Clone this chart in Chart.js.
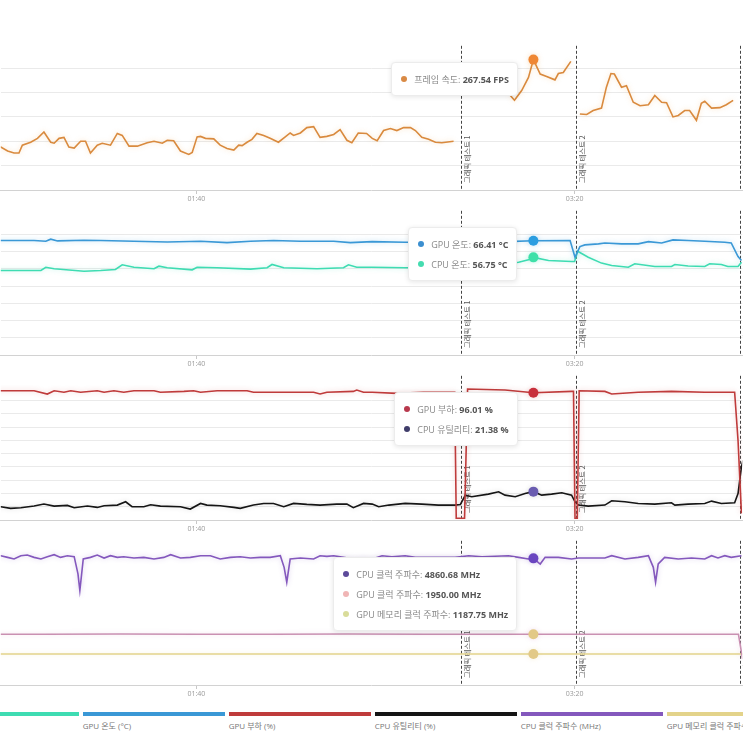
<!DOCTYPE html>
<html>
<head>
<meta charset="utf-8">
<script src="https://cdn.jsdelivr.net/npm/chart.js@4.4.1/dist/chart.umd.min.js"></script>
<style>
html, body { margin: 0; padding: 0; background: #fff; }
body { width: 743px; height: 743px; overflow: hidden; position: relative; font-family: "Open Sans", "Noto Sans CJK KR", sans-serif; }
.panel { position: absolute; left: 0; width: 743px; height: 165px; }
.tip { position: absolute; display: none; background: #fff; border: 1px solid #ececec; border-radius: 4px; box-shadow: 0 1px 5px rgba(0,0,0,0.10); padding: 6px 8px 6px 9px; font-size: 9px; color: #888; white-space: nowrap; pointer-events: none; }
.tip .row { height: 20px; display: flex; align-items: center; }
.tip .dot { width: 6.5px; height: 6.5px; border-radius: 50%; margin-right: 7px; flex: none; }
.tip b { color: #555; font-weight: 700; }
#legend { position: absolute; top: 712px; left: 0; width: 743px; height: 31px; overflow: hidden; }
.lg { position: absolute; top: 0; width: 142px; }
.lg .bar { height: 4px; }
.lg .txt { font-size: 8px; color: #777; margin-top: 4px; white-space: nowrap; }
</style>
</head>
<body>
<div class="panel" style="top:45px"><canvas id="c0"></canvas></div>
<div class="panel" style="top:210px"><canvas id="c1"></canvas></div>
<div class="panel" style="top:375px"><canvas id="c2"></canvas></div>
<div class="panel" style="top:540px"><canvas id="c3"></canvas></div>
<div id="legend"></div>
<script>
// visible time window (seconds) and axis ticks
const xMin = 48.3, xMax = 244.3;
const xTicks = [100, 200];
const activeTime = 189.1; // hovered moment shown in the tooltips

const testTimes = [169.9, 200.3, 243.8];
const testLabels = ['그래픽 테스트 1', '그래픽 테스트 2', '그래픽 테스트 3'];

// [time (s), value] pairs, null = no data
const fps = [[47.0,90],[48.3,88],[50.1,80],[51.8,76],[53.1,76],[54.0,92],[56.2,98],[58.0,106],[59.7,119],[61.5,98],
  [62.4,96],[63.7,106],[65.0,108],[66.3,88],[67.7,86],[69.4,100],[70.7,100],[72.0,76],[73.8,92],[75.1,96],
  [77.3,92],[79.1,116],[80.4,112],[82.2,90],[84.4,90],[87.0,97],[88.8,100],[91.0,96],[92.3,102],[94.0,101],
  [95.8,80],[98.0,73],[98.9,77],[100.2,109],[101.1,110],[102.4,106],[104.6,105],[106.3,92],[108.1,85],[109.9,82],
  [111.2,92],[112.1,91],[113.4,98],[114.7,104],[116.0,116],[117.8,112],[119.5,106],[121.7,98],[123.5,109],[124.8,117],
  [125.7,112],[127.5,117],[129.2,128],[131.0,130],[132.7,108],[134.5,110],[136.3,114],[138.0,124],[139.8,102],[141.1,97],
  [142.8,117],[145.0,116],[146.5,106],[147.8,101],[149.5,122],[151.3,126],[153.0,122],[154.8,128],[156.6,128],[157.9,122],
  [159.6,108],[161.4,104],[163.2,98],[164.9,97],[168.0,100],[175.0,null],
  [183.0,194],[184.1,184],[186.0,204],[187.8,231],[189.1,267.54],[190.9,238],[192.6,233],[194.8,226],[195.7,239],[197.0,241],[199.0,264],
  [200.3,null],
  [201.4,156],[203.2,155],[204.9,163],[207.1,168],[208.4,211],[209.6,239],[210.5,238],[212.4,211],[213.7,214],[215.5,180],
  [217.3,173],[219.5,175],[221.2,194],[223.0,180],[224.3,179],[226.0,150],[227.4,153],[229.1,163],[230.4,163],[232.2,143],
  [233.5,178],[234.4,182],[236.2,168],[238.4,169],[240.1,175],[241.9,184]];

const gpuTemp = [[47.0,66.5],[48.3,66.5],[57.1,66.5],[60.2,66.1],[61.5,67.3],[63.3,66.3],[70.3,66.7],[74.7,66.5],[83.5,66.1],[92.3,65.7],
  [101.1,66.1],[108.1,65.3],[114.3,66.1],[120.4,66.5],[127.5,66.1],[136.3,66.1],[140.7,65.3],[146.5,65.9],[155.2,65.5],[170.2,65.5],
  [182.0,65.9],[189.1,66.41],[198.8,66.5],[200.1,56.8],[201.4,63.0],[202.7,64.0],[206.3,64.6],[208.0,65.1],[212.4,64.6],[216.8,64.6],
  [219.5,65.9],[223.0,65.1],[226.0,66.9],[230.0,66.5],[234.4,66.1],[239.7,65.5],[241.4,65.1],[243.2,57.2],[244.1,54.9]];

const cpuTemp = [[47.0,49.1],[48.3,49.1],[58.9,49.1],[60.2,51.0],[62.4,50.1],[70.3,48.7],[74.7,49.1],[78.6,49.7],[80.4,52.4],[83.5,51.0],
  [88.8,50.1],[90.1,51.6],[92.3,50.7],[98.9,49.5],[100.2,51.0],[105.5,50.7],[114.3,49.9],[118.7,50.7],[120.0,52.6],[123.1,50.7],
  [131.9,50.1],[138.9,50.7],[140.2,52.4],[142.4,51.0],[146.5,51.0],[155.2,50.7],[165.0,50.7],[172.0,51.4],[180.0,52.5],[185.2,53.9],
  [187.8,55.3],[189.1,56.75],[193.1,54.9],[199.2,54.3],[200.0,54.3],[200.8,60.3],[203.6,56.8],[207.1,53.4],[209.8,52.0],[214.2,51.0],
  [215.9,53.0],[221.2,51.4],[225.6,51.4],[226.5,52.6],[230.0,51.7],[234.4,51.4],[235.7,53.0],[238.8,52.6],[240.5,51.4],[243.2,51.4],[244.1,53.9]];

const gpuLoad = [[47.0,97.5],[48.3,97.5],[57.1,97.5],[60.6,95.0],[62.4,97.5],[65.0,96.3],[66.8,97.5],[69.4,96.3],[73.8,97.5],[75.6,96.3],
  [78.2,97.5],[80.8,96.3],[83.5,97.5],[88.8,97.5],[90.5,96.3],[96.7,97.0],[99.3,97.5],[101.1,96.3],[105.5,97.5],[113.4,97.5],
  [115.1,96.3],[131.0,96.3],[132.7,95.0],[134.5,96.3],[141.5,97.0],[142.4,98.0],[144.2,96.3],[146.5,96.3],[153.0,95.5],[160.0,96.3],
  [168.3,96.3],[168.7,1.3],[170.9,1.3],[171.7,98.8],[181.6,98.0],[189.1,96.01],[199.2,97.0],[199.7,97.0],[200.1,1.3],[200.7,1.3],
  [201.2,97.5],[208.0,97.0],[209.8,95.0],[216.8,96.3],[225.6,97.0],[234.4,96.3],[242.3,96.3],[243.2,60.0],[244.1,5.0]];

const cpuUtil = [[47.0,10.0],[48.3,10.0],[50.9,8.75],[53.6,9.25],[57.1,10.5],[59.7,12.0],[62.4,10.5],[65.9,11.0],[67.7,9.25],[71.2,10.5],
  [73.8,9.5],[75.6,10.75],[79.1,11.25],[81.3,13.75],[83.0,10.0],[86.1,10.0],[87.9,11.5],[90.5,10.5],[95.8,10.0],[98.4,8.25],
  [101.1,12.5],[102.8,11.25],[106.3,10.75],[109.9,9.5],[111.6,8.75],[115.1,11.25],[117.8,12.5],[120.4,12.5],[123.1,10.0],[125.7,12.5],
  [129.2,11.75],[132.7,11.25],[137.1,12.0],[139.8,12.0],[141.5,9.25],[144.2,12.5],[146.5,12.0],[148.2,10.0],[150.9,11.25],[155.2,12.5],
  [159.6,12.0],[164.0,11.25],[168.4,11.25],[169.8,11.75],[171.1,18.75],[172.8,17.5],[177.2,19.5],[179.9,21.25],[181.6,18.75],[184.3,17.5],
  [186.9,20.0],[189.1,21.38],[191.3,18.75],[193.9,19.5],[196.6,20.5],[199.2,18.75],[200.1,13.75],[201.0,11.25],[203.6,10.5],[208.0,11.25],
  [209.8,14.5],[213.3,13.75],[216.8,12.5],[221.2,12.0],[225.6,13.0],[226.5,11.25],[230.0,12.0],[234.4,12.5],[236.2,14.25],[238.8,12.5],
  [242.3,13.0],[243.2,20.0],[244.1,40.0],[244.5,45.0]];

const cpuClock = [[47.0,4962],[48.3,4962],[50.1,4898],[51.8,4835],[53.6,4962],[55.3,4987],[57.1,4898],[58.9,4835],[60.6,4924],[62.4,5000],
  [64.1,4898],[65.9,4962],[67.7,4924],[68.7,4262],[69.2,3626],[70.1,4835],[72.0,4898],[73.8,4987],[75.6,4873],[77.3,4962],
  [79.1,4898],[80.8,4924],[83.5,4873],[86.1,4898],[88.8,4835],[91.4,4898],[93.2,5000],[95.8,4873],[98.4,4898],[101.1,4962],
  [103.7,4962],[106.3,4835],[109.0,4898],[111.6,4924],[114.3,4873],[116.9,4898],[119.5,4898],[122.2,4962],[123.2,4516],[123.9,3944],
  [124.8,4835],[127.5,4873],[131.0,4835],[132.7,4962],[134.5,4936],[136.3,4962],[138.9,4898],[141.5,4835],[144.2,4873],[146.5,4835],
  [149.1,4962],[151.7,4924],[155.2,4962],[157.9,4898],[168.4,4898],[172.0,4962],[175.5,4924],[182.5,4962],[185.2,4898],[187.8,4835],
  [189.1,4860.68],[190.9,4644],[192.2,4898],[195.7,4898],[199.2,4835],[201.0,4873],[204.5,4873],[208.0,4873],[209.8,4962],[213.3,4835],
  [216.8,4898],[219.5,4962],[220.8,4516],[221.4,3944],[222.1,4644],[223.8,4898],[227.4,4835],[230.9,4873],[234.4,4835],[236.2,4962],
  [237.9,4873],[239.7,4962],[241.4,4898],[244.1,4962]];

const gpuClock = [[47.0,1950],[60.0,1945],[80.0,1955],[100.0,1945],[120.0,1950],[140.0,1955],[160.0,1950],[189.1,1950],[210.0,1950],[230.0,1950],[243.3,1950],[244.4,1000]];
const gpuMemClock = [[47.0,1187.75],[100.0,1187.75],[189.1,1187.75],[244.5,1187.75]];

const legendOrder = ['프레임 속도', 'CPU 온도', 'GPU 온도', 'GPU 부하', 'CPU 유틸리티', 'CPU 클럭 주파수', 'GPU 메모리 클럭 주파수', 'GPU 클럭 주파수'];

function series(label, unit, pairs, color, hover, tip, glow) {
  return {
    label: label, unit: unit, tipColor: tip, glowColor: glow,
    data: pairs.map(p => ({ x: p[0], y: p[1] })),
    borderColor: color, backgroundColor: color,
    borderWidth: 1.6, pointRadius: 0, pointHoverRadius: 5,
    pointHoverBackgroundColor: hover, pointHoverBorderColor: hover, pointHoverBorderWidth: 0,
    tension: 0, fill: false, spanGaps: false
  };
}

const panels = [
  { yMax: 295.9, step: 50, sets: [
    series('프레임 속도', 'FPS', fps, '#d98a3e', '#ef8734', '#d98a45', 'rgba(240,170,80,0.35)') ] },
  { yMax: 83.8, step: 10, sets: [
    series('GPU 온도', '°C', gpuTemp, '#3a98d6', '#2b9de0', '#3b8fd0', 'rgba(60,160,220,0.35)'),
    series('CPU 온도', '°C', cpuTemp, '#3edcb2', '#3ee0a8', '#45dcb0', 'rgba(60,220,180,0.35)') ] },
  { yMax: 108.75, step: 10, sets: [
    series('GPU 부하', '%', gpuLoad, '#bf3b3b', '#c8303c', '#b8394d', 'rgba(200,60,60,0.25)'),
    series('CPU 유틸리티', '%', cpuUtil, '#151515', '#6a5cb0', '#3f3d6a', 'rgba(0,0,0,0.15)') ] },
  { yMax: 5534, step: 500, sets: [
    series('CPU 클럭 주파수', 'MHz', cpuClock, '#8458bd', '#6a45c0', '#5d4a9a', 'rgba(130,90,190,0.3)'),
    series('GPU 클럭 주파수', 'MHz', gpuClock, '#c990b2', '#e2c987', '#f0b5b5', 'rgba(210,150,190,0.3)'),
    series('GPU 메모리 클럭 주파수', 'MHz', gpuMemClock, '#e3d38a', '#e2c987', '#d9dc9a', 'rgba(230,210,130,0.3)') ] }
];

// dashed test markers with rotated captions
const markerPlugin = {
  id: 'markers',
  beforeDatasetsDraw(chart) {
    const ctx = chart.ctx, a = chart.chartArea, x = chart.scales.x;
    ctx.save();
    testTimes.forEach((t, i) => {
      const px = Math.round(x.getPixelForValue(t)) + 0.5;
      ctx.strokeStyle = '#444';
      ctx.lineWidth = 1;
      ctx.setLineDash([3, 2]);
      ctx.beginPath();
      ctx.moveTo(px, a.top);
      ctx.lineTo(px, a.bottom);
      ctx.stroke();
      ctx.save();
      ctx.translate(px + 2, a.bottom - 7);
      ctx.rotate(-Math.PI / 2);
      ctx.fillStyle = '#555';
      ctx.font = '7.3px "Noto Sans CJK KR"';
      ctx.textBaseline = 'top';
      ctx.textAlign = 'left';
      ctx.fillText(testLabels[i], 0, 0);
      ctx.restore();
    });
    ctx.restore();
  }
};

// soft glow around lines
const glowPlugin = {
  id: 'glow',
  beforeDatasetDraw(chart, args) {
    chart.ctx.save();
    chart.ctx.shadowColor = chart.data.datasets[args.index].glowColor;
    chart.ctx.shadowBlur = 5;
  },
  afterDatasetDraw(chart) {
    chart.ctx.restore();
  }
};

function externalTip(context) {
  const chart = context.chart, tooltip = context.tooltip;
  const holder = chart.canvas.parentNode;
  let el = holder.querySelector('.tip');
  if (!el) {
    el = document.createElement('div');
    el.className = 'tip';
    holder.appendChild(el);
  }
  if (tooltip.opacity === 0) { el.style.display = 'none'; return; }
  el.style.display = 'block';
  el.innerHTML = tooltip.dataPoints.map(p => {
    const d = p.dataset;
    return '<div class="row"><span class="dot" style="background:' + d.tipColor + '"></span>' +
      d.label + ':&nbsp;<b>' + p.parsed.y.toFixed(2) + ' ' + d.unit + '</b></div>';
  }).join('');
  el.style.left = (tooltip.caretX - 16 - el.offsetWidth) + 'px';
  el.style.top = (chart.chartArea.top + 17) + 'px';
}

function mmss(v) {
  return String(Math.floor(v / 60)).padStart(2, '0') + ':' + String(Math.round(v % 60)).padStart(2, '0');
}

const charts = panels.map((p, i) => {
  const chart = new Chart(document.getElementById('c' + i), {
    type: 'line',
    data: { datasets: p.sets },
    options: {
      responsive: true,
      maintainAspectRatio: false,
      animation: false,
      events: [],
      layout: { padding: 0 },
      scales: {
        x: {
          type: 'linear', min: xMin, max: xMax,
          afterBuildTicks: s => { s.ticks = xTicks.map(v => ({ value: v })); },
          afterFit: s => { s.height = 20; },
          ticks: { callback: v => mmss(v), color: '#999', font: { size: 7, family: 'Open Sans' }, padding: 1, maxRotation: 0, autoSkip: false },
          grid: { drawOnChartArea: false, drawTicks: true, tickLength: 4, color: '#c8c8c8' },
          border: { color: '#d2d2d2' }
        },
        y: {
          min: 0, max: p.yMax,
          ticks: { display: false, stepSize: p.step },
          grid: {
            drawTicks: false,
            color: c => (c.tick.value > 0 && Math.abs(c.tick.value % p.step) < 1e-6) ? '#eaeaea' : 'rgba(0,0,0,0)'
          },
          border: { display: false }
        }
      },
      plugins: {
        legend: { display: false },
        tooltip: { enabled: false, external: externalTip, mode: 'nearest', position: 'average' }
      }
    },
    plugins: [markerPlugin, glowPlugin]
  });
  const active = chart.data.datasets.map((d, k) => ({ datasetIndex: k, index: d.data.findIndex(pt => pt.x === activeTime) }));
  chart.setActiveElements(active);
  chart.tooltip.setActiveElements(active, { x: 0, y: 0 });
  chart.update();
  return chart;
});

// legend strip (scrolled: first and last entries fall outside the frame)
const allSets = [];
charts.forEach(c => c.data.datasets.forEach(d => allSets.push(d)));
const legend = document.getElementById('legend');
legendOrder.forEach((name, k) => {
  const d = allSets.find(s => s.label === name);
  const item = document.createElement('div');
  item.className = 'lg';
  item.style.left = (-209.3 + k * 146) + 'px';
  item.innerHTML = '<div class="bar" style="background:' + d.borderColor + '"></div><div class="txt">' + name + ' (' + d.unit + ')</div>';
  legend.appendChild(item);
});
</script>
</body>
</html>
